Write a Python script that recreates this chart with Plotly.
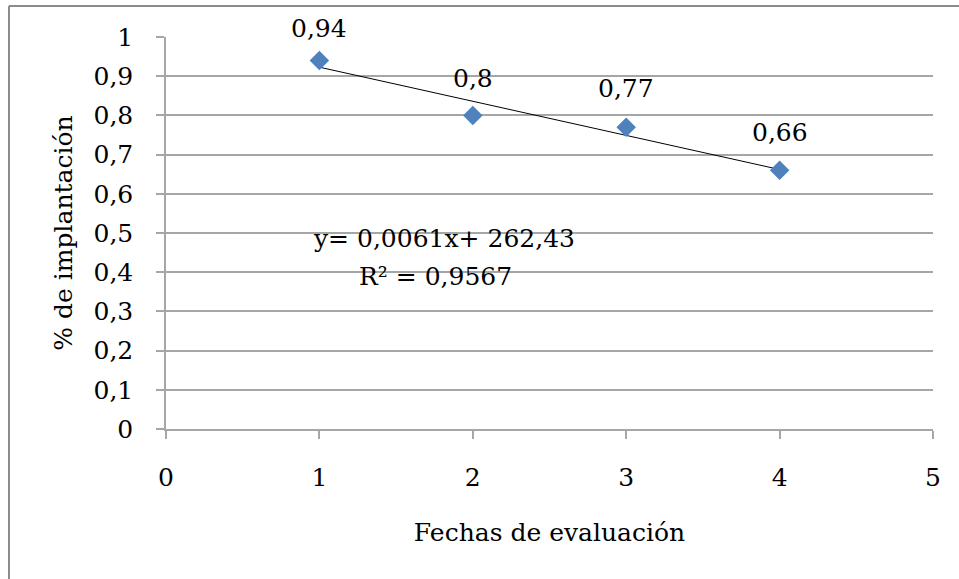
import numpy as np
import plotly.graph_objects as go

fechas = [1, 2, 3, 4]
implantacion = [0.94, 0.80, 0.77, 0.66]
etiquetas = ["0,94", "0,8", "0,77", "0,66"]
ecuacion = "y= 0,0061x+ 262,43"
r2_texto = "R² = 0,9567"
x_title = "Fechas de evaluación"
y_title = "% de implantación"

W, H = 959, 579
L, R, T, B = 166, 26, 37, 150
FONT = "DejaVu Serif"
FS = 25
GRAY = "#A6A6A6"

# linear trend over the data
m, c = np.polyfit(fechas, implantacion, 1)
tx = np.array([min(fechas), max(fechas)])
ty = m * tx + c

fig = go.Figure()
fig.add_trace(go.Scatter(x=tx, y=ty, mode="lines",
                         line=dict(color="black", width=1), showlegend=False, hoverinfo="skip"))
fig.add_trace(go.Scatter(x=fechas, y=implantacion, mode="markers",
                         marker=dict(symbol="diamond", size=15, color="#4F81BD"),
                         showlegend=False))

label_shift = [32, 37, 39, 38]
for xv, yv, t, s in zip(fechas, implantacion, etiquetas, label_shift):
    fig.add_annotation(x=xv, y=yv, text=t, showarrow=False, yshift=s,
                       font=dict(family=FONT, size=FS, color="black"))

pw, ph = W - L - R, H - T - B
def px(x): return (x - L) / pw
def py(y): return (H - B - y) / ph

fig.add_annotation(x=px(444), y=py(238), xref="paper", yref="paper", text=ecuacion,
                   showarrow=False, font=dict(family=FONT, size=FS, color="black"))
fig.add_annotation(x=px(435), y=py(276), xref="paper", yref="paper", text=r2_texto,
                   showarrow=False, font=dict(family=FONT, size=FS, color="black"))

# outer chart frame (only left and top visible)
fig.add_shape(type="line", xref="paper", yref="paper", x0=px(9), x1=px(9), y0=py(6), y1=py(600),
              line=dict(color="#8C8C8C", width=2))
fig.add_shape(type="line", xref="paper", yref="paper", x0=px(9), x1=px(1000), y0=py(6), y1=py(6),
              line=dict(color="#8C8C8C", width=2))

fig.update_layout(
    width=W, height=H, margin=dict(l=L, r=R, t=T, b=B, pad=0),
    paper_bgcolor="white", plot_bgcolor="white",
    separators=",.",
    font=dict(family=FONT, size=FS, color="black"),
    xaxis=dict(range=[0, 5], dtick=1, tick0=0, showgrid=False, zeroline=False,
               showline=True, linecolor=GRAY, linewidth=1.5,
               ticks="outside", ticklen=8, tickcolor=GRAY, tickwidth=1.5,
               ticklabelstandoff=17, tickfont=dict(family=FONT, size=FS),
               title=dict(text=x_title, standoff=33, font=dict(family=FONT, size=FS))),
    yaxis=dict(range=[0, 1], dtick=0.1, tick0=0, showgrid=True, gridcolor=GRAY, gridwidth=1.5,
               zeroline=False, showline=True, linecolor=GRAY, linewidth=1.5,
               ticks="outside", ticklen=8, tickcolor=GRAY, tickwidth=1.5,
               ticklabelstandoff=18, tickfont=dict(family=FONT, size=FS),
               title=dict(text=y_title, standoff=14, font=dict(family=FONT, size=FS))),
)

fig.write_html("out.html")
